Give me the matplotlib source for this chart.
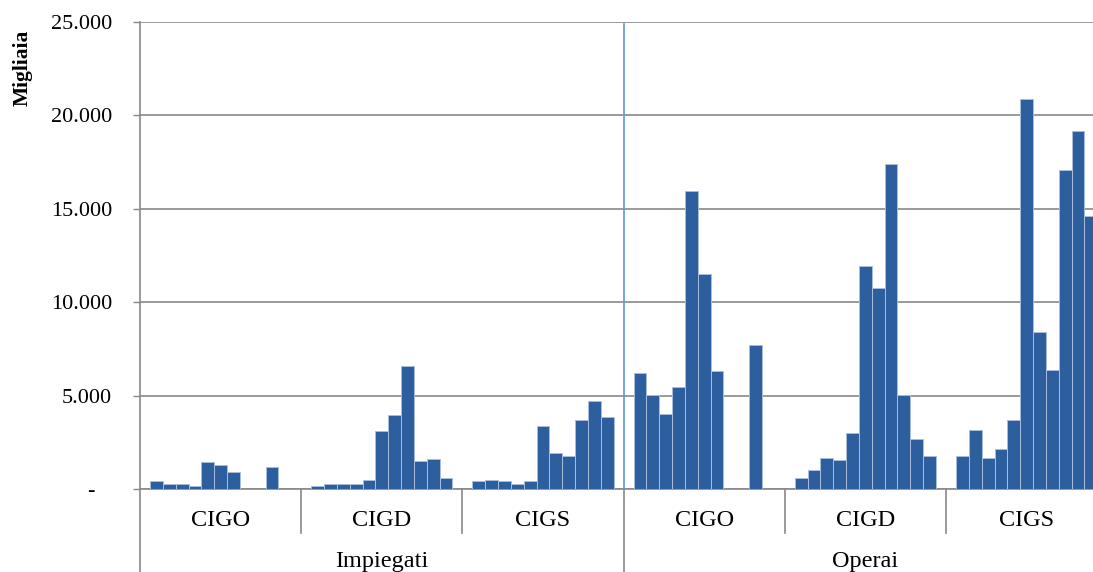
import matplotlib

matplotlib.use("Agg")
import matplotlib.pyplot as plt
import matplotlib.transforms as mtransforms
import numpy as np

plt.rcParams["font.family"] = ["Liberation Serif", "DejaVu Serif"]

# thousands of hours per year (11 years per scheme), 0 = no data
workers = ["Impiegati", "Operai"]
schemes = ["CIGO", "CIGD", "CIGS"]
imp_cigo = [420, 250, 250, 180, 1430, 1270, 930, 0, 0, 1180, 0]
imp_cigd = [180, 250, 250, 250, 500, 3120, 3940, 6570, 1520, 1590, 590]
imp_cigs = [420, 500, 420, 250, 420, 3360, 1930, 1770, 3700, 4700, 3860]
ope_cigo = [6210, 5040, 4020, 5460, 15970, 11520, 6300, 0, 0, 7730, 0]
ope_cigd = [570, 1000, 1660, 1570, 3020, 11930, 10750, 17390, 5040, 2680, 1750]
ope_cigs = [1750, 3180, 1660, 2160, 3690, 20860, 8390, 6370, 17070, 19160, 14630]
groups = [imp_cigo, imp_cigd, imp_cigs, ope_cigo, ope_cigd, ope_cigs]

BAR = "#2D5E9E"
GRID = "#898989"
W = 12.56          # group width in bar units
PAD = (W - 11) / 2

fig = plt.figure(figsize=(10.93, 5.72), dpi=100)
# the last group runs past the right edge of the picture, as in the source
ax = fig.add_axes([140 / 1093, 83 / 572, 6 * 161.2 / 1093, 467 / 572])

for g, vals in enumerate(groups):
    vals = np.asarray(vals, dtype=float)
    x = g * W + PAD + np.arange(len(vals))
    keep = vals > 0
    ax.bar(x[keep], vals[keep], width=1.0, align="edge", color=BAR,
           edgecolor="#A9BEDD", linewidth=0.7, zorder=3)

ax.set_xlim(0, 6 * W)
ax.set_ylim(0, 25000)
ax.set_yticks(np.arange(0, 25001, 5000))
ax.yaxis.set_major_formatter(
    lambda v, _: "-   " if v == 0 else f"{int(v):,}".replace(",", "."))
ax.set_xticks([])
ax.yaxis.grid(True, color=GRID, linewidth=1.2, zorder=0)
ax.set_axisbelow(True)
ax.tick_params(axis="y", length=5, width=1, color=GRID, pad=15, labelsize=16)
for side in ("top", "right"):
    ax.spines[side].set_visible(False)
for side in ("left", "bottom"):
    ax.spines[side].set_color(GRID)
    ax.spines[side].set_linewidth(1.2)

# divider between the two worker groups
ax.axvline(3 * W, ymax=0.995, color="#5B9BD5", linewidth=1.2, zorder=4)

# two-level category axis
tr = mtransforms.blended_transform_factory(ax.transData, ax.transAxes)
for g in range(7):
    depth = -0.22 if g % 3 == 0 else -0.094
    ax.plot([g * W, g * W], [0, depth], transform=tr, color=GRID,
            linewidth=1.2, clip_on=False)
for g in range(6):
    ax.text(g * W + W / 2, -0.079, schemes[g % 3], transform=tr,
            ha="center", va="baseline", fontsize=17.5)
for k, name in enumerate(workers):
    ax.text(k * 3 * W + 1.5 * W, -0.168, name, transform=tr,
            ha="center", va="baseline", fontsize=17.5)

fig.text(23 / 1093, 1 - 30 / 572, "Migliaia", rotation=90, ha="center",
         va="top", fontsize=15.5, fontweight="bold")

fig.savefig("out.png", dpi=100)
